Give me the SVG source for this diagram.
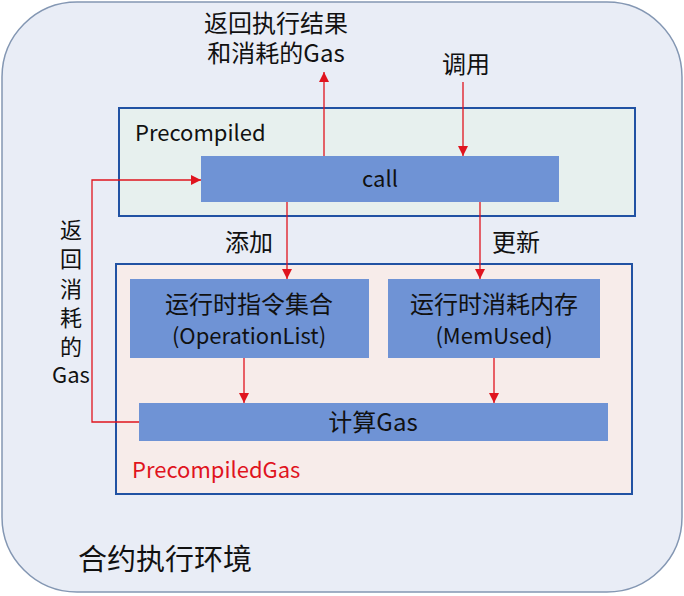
<svg xmlns="http://www.w3.org/2000/svg" width="684" height="596" viewBox="0 0 684 596">
<defs>
<style>
text{font-family:"Noto Sans CJK SC","Noto Sans",sans-serif;font-size:22px;fill:#111}
.k{font-size:24px}
.v{font-size:22px}
.box{stroke:#2152A3;stroke-width:2}
.n{fill:#6F93D5}
.c{fill:none;stroke:#E0141E;stroke-width:1.3}
</style>
<marker id="a" viewBox="0 0 10 10" refX="10" refY="5" markerWidth="10" markerHeight="10" markerUnits="userSpaceOnUse" orient="auto"><path d="M0,0L10,5L0,10z" fill="#E0141E"/></marker>
</defs>
<g id="env"><rect x="2" y="2" width="680" height="590" rx="75" fill="#E9EDF6" stroke="#8497B3" stroke-width="1.5"/><text x="78" y="570" style="font-size:29px">合约执行环境</text></g>
<g id="precompiled"><rect class="box" x="119" y="108" width="516" height="108" fill="#E7F0EE"/><text x="135" y="141">Precompiled</text></g>
<g id="call"><rect class="n" x="201" y="156" width="358" height="46"/><text x="380" y="187" text-anchor="middle">call</text></g>
<g id="precompiledgas"><rect class="box" x="116" y="264" width="516" height="230" fill="#F7ECEA"/><text x="132" y="478" style="fill:#E0141E">PrecompiledGas</text></g>
<g id="oplist"><rect class="n" x="130" y="279" width="239" height="79"/><text class="k" x="249" y="313" text-anchor="middle">运行时指令集合</text><text x="249" y="344" text-anchor="middle">(OperationList)</text></g>
<g id="memused"><rect class="n" x="388" y="279" width="212" height="79"/><text class="k" x="494" y="313" text-anchor="middle">运行时消耗内存</text><text x="494" y="344" text-anchor="middle">(MemUsed)</text></g>
<g id="calcgas"><rect class="n" x="139" y="403" width="469" height="38"/><text class="k" x="373" y="431" text-anchor="middle">计算Gas</text></g>
<g id="connectors">
<path class="c" d="M324,156V72" marker-end="url(#a)"/>
<path class="c" d="M463,82V156" marker-end="url(#a)"/>
<path class="c" d="M287,202V279" marker-end="url(#a)"/>
<path class="c" d="M480,202V279" marker-end="url(#a)"/>
<path class="c" d="M244,358V403" marker-end="url(#a)"/>
<path class="c" d="M494,358V403" marker-end="url(#a)"/>
<path class="c" d="M139,422H92V180H201" marker-end="url(#a)"/>
<text class="k" x="276" y="32" text-anchor="middle">返回执行结果</text>
<text class="k" x="276" y="62" text-anchor="middle">和消耗的Gas</text>
<text class="k" x="466" y="73" text-anchor="middle">调用</text>
<text class="k" x="249" y="251" text-anchor="middle">添加</text>
<text class="k" x="516" y="251" text-anchor="middle">更新</text>
<g text-anchor="middle"><text class="v" x="71" y="238">返</text><text class="v" x="71" y="267">回</text><text class="v" x="71" y="297">消</text><text class="v" x="71" y="326">耗</text><text class="v" x="71" y="355">的</text><text x="71" y="383">Gas</text></g>
</g>
</svg>
